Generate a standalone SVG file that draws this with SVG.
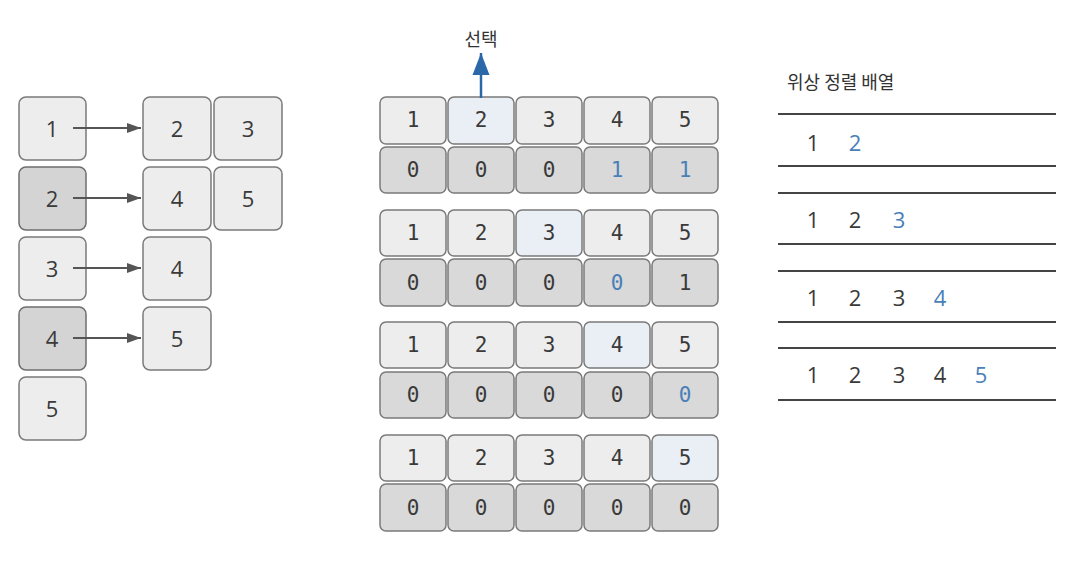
<svg xmlns="http://www.w3.org/2000/svg" width="1082" height="568" viewBox="0 0 1082 568">
<defs>
<style>
.bg{fill:#ffffff}
.lt{fill:#ededed;stroke:#7a7a7a;stroke-width:1.5}
.dk{fill:#d4d4d4;stroke:#6e6e6e;stroke-width:1.5}
.hl{fill:#eaeef5;stroke:#7a7a7a;stroke-width:1.5}
.cl{fill:#d9d9d9;stroke:#7a7a7a;stroke-width:1.5}
.sn{font-family:"Open Sans","Noto Sans",sans-serif;font-size:22px;fill:#3a3a3a;text-anchor:middle;dominant-baseline:central}
.mn{font-family:"DejaVu Sans Mono",monospace;font-size:21px;fill:#3a3a3a;text-anchor:middle;dominant-baseline:central}
.bl{fill:#4a7fb8}
.kr{font-family:"Noto Sans CJK KR",sans-serif;font-size:18px;fill:#333;}
.ln{stroke:#444;stroke-width:2}
.ar{stroke:#555;stroke-width:2;fill:none}
</style>
<marker id="ah" markerWidth="14" markerHeight="12" refX="14" refY="6" orient="auto" markerUnits="userSpaceOnUse">
<path d="M0,1 L14,6 L0,11 z" fill="#555"/>
</marker>
<marker id="bh" markerWidth="22" markerHeight="18" refX="22" refY="9" orient="auto" markerUnits="userSpaceOnUse">
<path d="M0,0.5 L22,9 L0,17.5 z" fill="#2a68a8"/>
</marker>
</defs>
<rect class="bg" x="0" y="0" width="1082" height="568"/>

<!-- left adjacency list -->
<g id="n1"><rect class="lt" x="19" y="97" width="67" height="63" rx="7"/><text class="sn" x="52" y="128">1</text></g>
<g id="n2"><rect class="dk" x="19" y="167" width="67" height="63" rx="7"/><text class="sn" x="52" y="198">2</text></g>
<g id="n3"><rect class="lt" x="19" y="237" width="67" height="63" rx="7"/><text class="sn" x="52" y="268">3</text></g>
<g id="n4"><rect class="dk" x="19" y="307" width="67" height="63" rx="7"/><text class="sn" x="52" y="338">4</text></g>
<g id="n5"><rect class="lt" x="19" y="377" width="67" height="63" rx="7"/><text class="sn" x="52" y="408">5</text></g>

<g id="a1_2"><rect class="lt" x="143" y="97" width="68" height="63" rx="7"/><text class="sn" x="177" y="128">2</text></g>
<g id="a1_3"><rect class="lt" x="214" y="97" width="68" height="63" rx="7"/><text class="sn" x="248" y="128">3</text></g>
<g id="a2_4"><rect class="lt" x="143" y="167" width="68" height="63" rx="7"/><text class="sn" x="177" y="198">4</text></g>
<g id="a2_5"><rect class="lt" x="214" y="167" width="68" height="63" rx="7"/><text class="sn" x="248" y="198">5</text></g>
<g id="a3_4"><rect class="lt" x="143" y="237" width="68" height="63" rx="7"/><text class="sn" x="177" y="268">4</text></g>
<g id="a4_5"><rect class="lt" x="143" y="307" width="68" height="63" rx="7"/><text class="sn" x="177" y="338">5</text></g>

<!-- middle arrays -->
<g id="b1">
<rect class="lt" x="380" y="97" width="66" height="47" rx="6"/><text class="mn" x="413" y="120">1</text>
<rect class="hl" x="448" y="97" width="66" height="47" rx="6"/><text class="mn" x="481" y="120">2</text>
<rect class="lt" x="516" y="97" width="66" height="47" rx="6"/><text class="mn" x="549" y="120">3</text>
<rect class="lt" x="584" y="97" width="66" height="47" rx="6"/><text class="mn" x="617" y="120">4</text>
<rect class="lt" x="652" y="97" width="66" height="47" rx="6"/><text class="mn" x="685" y="120">5</text>
<rect class="cl" x="380" y="147" width="66" height="46" rx="6"/><text class="mn" x="413" y="170">0</text>
<rect class="cl" x="448" y="147" width="66" height="46" rx="6"/><text class="mn" x="481" y="170">0</text>
<rect class="cl" x="516" y="147" width="66" height="46" rx="6"/><text class="mn" x="549" y="170">0</text>
<rect class="cl" x="584" y="147" width="66" height="46" rx="6"/><text class="mn bl" x="617" y="170">1</text>
<rect class="cl" x="652" y="147" width="66" height="46" rx="6"/><text class="mn bl" x="685" y="170">1</text>
</g>
<g id="b2">
<rect class="lt" x="380" y="210" width="66" height="46" rx="6"/><text class="mn" x="413" y="233">1</text>
<rect class="lt" x="448" y="210" width="66" height="46" rx="6"/><text class="mn" x="481" y="233">2</text>
<rect class="hl" x="516" y="210" width="66" height="46" rx="6"/><text class="mn" x="549" y="233">3</text>
<rect class="lt" x="584" y="210" width="66" height="46" rx="6"/><text class="mn" x="617" y="233">4</text>
<rect class="lt" x="652" y="210" width="66" height="46" rx="6"/><text class="mn" x="685" y="233">5</text>
<rect class="cl" x="380" y="259" width="66" height="47" rx="6"/><text class="mn" x="413" y="283">0</text>
<rect class="cl" x="448" y="259" width="66" height="47" rx="6"/><text class="mn" x="481" y="283">0</text>
<rect class="cl" x="516" y="259" width="66" height="47" rx="6"/><text class="mn" x="549" y="283">0</text>
<rect class="cl" x="584" y="259" width="66" height="47" rx="6"/><text class="mn bl" x="617" y="283">0</text>
<rect class="cl" x="652" y="259" width="66" height="47" rx="6"/><text class="mn" x="685" y="283">1</text>
</g>
<g id="b3">
<rect class="lt" x="380" y="322" width="66" height="46" rx="6"/><text class="mn" x="413" y="345">1</text>
<rect class="lt" x="448" y="322" width="66" height="46" rx="6"/><text class="mn" x="481" y="345">2</text>
<rect class="lt" x="516" y="322" width="66" height="46" rx="6"/><text class="mn" x="549" y="345">3</text>
<rect class="hl" x="584" y="322" width="66" height="46" rx="6"/><text class="mn" x="617" y="345">4</text>
<rect class="lt" x="652" y="322" width="66" height="46" rx="6"/><text class="mn" x="685" y="345">5</text>
<rect class="cl" x="380" y="372" width="66" height="46" rx="6"/><text class="mn" x="413" y="395">0</text>
<rect class="cl" x="448" y="372" width="66" height="46" rx="6"/><text class="mn" x="481" y="395">0</text>
<rect class="cl" x="516" y="372" width="66" height="46" rx="6"/><text class="mn" x="549" y="395">0</text>
<rect class="cl" x="584" y="372" width="66" height="46" rx="6"/><text class="mn" x="617" y="395">0</text>
<rect class="cl" x="652" y="372" width="66" height="46" rx="6"/><text class="mn bl" x="685" y="395">0</text>
</g>
<g id="b4">
<rect class="lt" x="380" y="435" width="66" height="46" rx="6"/><text class="mn" x="413" y="458">1</text>
<rect class="lt" x="448" y="435" width="66" height="46" rx="6"/><text class="mn" x="481" y="458">2</text>
<rect class="lt" x="516" y="435" width="66" height="46" rx="6"/><text class="mn" x="549" y="458">3</text>
<rect class="lt" x="584" y="435" width="66" height="46" rx="6"/><text class="mn" x="617" y="458">4</text>
<rect class="hl" x="652" y="435" width="66" height="46" rx="6"/><text class="mn" x="685" y="458">5</text>
<rect class="cl" x="380" y="484" width="66" height="47" rx="6"/><text class="mn" x="413" y="508">0</text>
<rect class="cl" x="448" y="484" width="66" height="47" rx="6"/><text class="mn" x="481" y="508">0</text>
<rect class="cl" x="516" y="484" width="66" height="47" rx="6"/><text class="mn" x="549" y="508">0</text>
<rect class="cl" x="584" y="484" width="66" height="47" rx="6"/><text class="mn" x="617" y="508">0</text>
<rect class="cl" x="652" y="484" width="66" height="47" rx="6"/><text class="mn" x="685" y="508">0</text>
</g>

<g id="select">
<text class="kr" x="481" y="46" text-anchor="middle">선택</text>
</g>

<!-- right: topological order -->
<g id="result">
<text class="kr" x="787" y="89">위상 정렬 배열</text>
<line class="ln" x1="778" y1="114" x2="1056" y2="114"/>
<line class="ln" x1="778" y1="166" x2="1056" y2="166"/>
<line class="ln" x1="778" y1="193" x2="1056" y2="193"/>
<line class="ln" x1="778" y1="244" x2="1056" y2="244"/>
<line class="ln" x1="778" y1="271" x2="1056" y2="271"/>
<line class="ln" x1="778" y1="322" x2="1056" y2="322"/>
<line class="ln" x1="778" y1="348" x2="1056" y2="348"/>
<line class="ln" x1="778" y1="400" x2="1056" y2="400"/>
<text class="sn" x="813" y="142">1</text><text class="sn bl" x="855" y="142">2</text>
<text class="sn" x="813" y="219">1</text><text class="sn" x="855" y="219">2</text><text class="sn bl" x="899" y="219">3</text>
<text class="sn" x="813" y="297">1</text><text class="sn" x="855" y="297">2</text><text class="sn" x="899" y="297">3</text><text class="sn bl" x="940" y="297">4</text>
<text class="sn" x="813" y="374">1</text><text class="sn" x="855" y="374">2</text><text class="sn" x="899" y="374">3</text><text class="sn" x="940" y="374">4</text><text class="sn bl" x="981" y="374">5</text>
</g>

<g id="connectors">
<line class="ar" x1="73" y1="128" x2="141" y2="128" marker-end="url(#ah)"/>
<line class="ar" x1="73" y1="198" x2="141" y2="198" marker-end="url(#ah)"/>
<line class="ar" x1="73" y1="268" x2="141" y2="268" marker-end="url(#ah)"/>
<line class="ar" x1="73" y1="338" x2="141" y2="338" marker-end="url(#ah)"/>
<line x1="481" y1="98" x2="481" y2="53" stroke="#2a68a8" stroke-width="2.5" marker-end="url(#bh)"/>
</g>
</svg>
